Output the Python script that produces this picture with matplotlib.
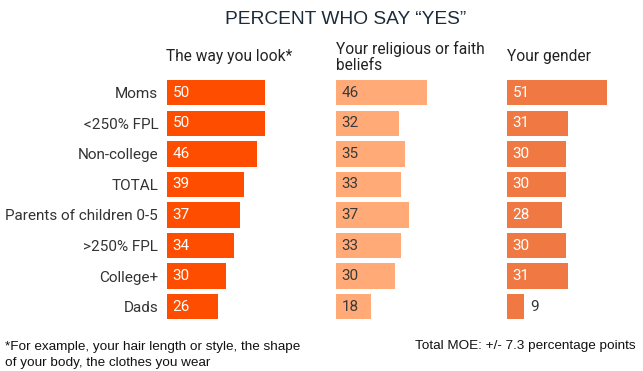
import matplotlib
matplotlib.use("Agg")
import matplotlib.pyplot as plt

categories = ["Moms", "<250% FPL", "Non-college", "TOTAL",
              "Parents of children 0-5", ">250% FPL", "College+", "Dads"]
look = [50, 50, 46, 39, 37, 34, 30, 26]
religion = [46, 32, 35, 33, 37, 33, 30, 18]
gender = [51, 31, 30, 30, 28, 30, 31, 9]
headers = ["The way you look*", "Your religious or faith\nbeliefs", "Your gender"]
title = "PERCENT WHO SAY \u201cYES\u201d"

W, H = 643, 371
fig = plt.figure(figsize=(W / 100, H / 100), dpi=100)

def fx(px):
    return px / W

def fy(py):
    return 1 - py / H

MAIN = "Roboto"
px_per_unit = 1.975
ax_w = 160
top_px, bot_px = 77.4, 322.0
lefts = [166.5, 335.7, 506.7]
series = [look, religion, gender]
colors = ["#ff4d00", "#ffaa77", "#f07843"]
txtcolors = ["white", "#3a3a3a", "white"]

for i, (left, vals, col, tc) in enumerate(zip(lefts, series, colors, txtcolors)):
    ax = fig.add_axes([fx(left), fy(bot_px), fx(ax_w), (bot_px - top_px) / H])
    y = list(range(len(categories)))
    ax.barh(y, vals, height=0.83, color=col, edgecolor="none")
    ax.set_xlim(0, ax_w / px_per_unit)
    ax.set_ylim(len(categories) - 0.5, -0.5)
    for s in ax.spines.values():
        s.set_visible(False)
    ax.set_xticks([])
    if i == 0:
        ax.set_yticks(y)
        ax.set_yticklabels(categories, fontsize=11, family=MAIN, color="#333333")
        ax.tick_params(axis="y", length=0, pad=6)
    else:
        ax.set_yticks([])
    off = 6 / px_per_unit
    for yy, v in zip(y, vals):
        if v < 12:
            ax.text(v + off, yy, str(v), va="center", ha="left", fontsize=11,
                    family=MAIN, color="#333333")
        else:
            ax.text(off, yy, str(v), va="center", ha="left", fontsize=11,
                    family=MAIN, color=tc)

# headers
fig.text(fx(lefts[0]), fy(61), headers[0], ha="left", va="baseline",
         fontsize=11.2, family=MAIN, color="#222222")
fig.text(fx(lefts[1]), fy(70), headers[1], ha="left", va="baseline",
         fontsize=11.2, family=MAIN, color="#222222", linespacing=1.1)
fig.text(fx(lefts[2]), fy(61), headers[2], ha="left", va="baseline",
         fontsize=11.2, family=MAIN, color="#222222")

# title
fig.text(fx(346), fy(23.5), title, ha="center", va="baseline", fontsize=13.8,
         family="Liberation Sans", color="#1c2b39")

# footnotes
fig.text(fx(5), fy(366), "*For example, your hair length or style, the shape\nof your body, the clothes you wear",
         ha="left", va="baseline", fontsize=9.7, family="Liberation Sans",
         color="#111111", linespacing=1.45)
fig.text(fx(636), fy(349), "Total MOE: +/- 7.3 percentage points", ha="right",
         va="baseline", fontsize=9.7, family="Liberation Sans", color="#111111")

fig.savefig("out.png", dpi=100, facecolor="white")
